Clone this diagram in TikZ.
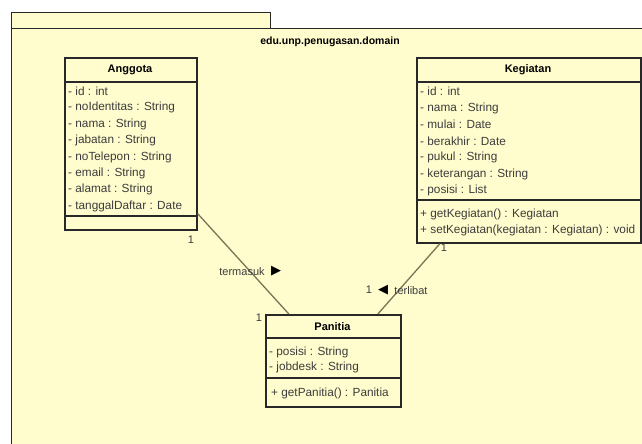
\documentclass[tikz,border=0pt]{standalone}
\usepackage{fontspec}
\setmainfont{Liberation Sans}
\newfontfamily\symfont{DejaVu Sans}
\definecolor{pkgfill}{RGB}{255,252,205}
\definecolor{boxline}{RGB}{40,40,40}
\definecolor{txt}{RGB}{60,60,60}
\definecolor{assoc}{RGB}{125,115,85}
\begin{document}
\begin{tikzpicture}[x=1pt,y=-1pt,
 attr/.style={anchor=west,inner sep=0pt,font=\fontsize{11.8}{13}\selectfont,text=txt},
 ctitle/.style={inner sep=0pt,font=\bfseries\fontsize{11}{13}\selectfont,text=black},
 classbox/.style={draw=boxline,line width=1.7pt,fill=pkgfill,inner sep=0pt,anchor=north west},
 sepline/.style={draw=boxline,line width=1.1pt},
 mult/.style={inner sep=0pt,font=\fontsize{11}{13}\selectfont,text=txt},
 tri/.style={inner sep=0pt,font=\symfont\fontsize{13}{13}\selectfont,text=black},
 assocline/.style={draw=assoc,line width=1.3pt}]
\clip (0,0) rectangle (642,444);
\fill[white] (0,0) rectangle (642,444);
% package
\node[draw=boxline,line width=1.3pt,fill=pkgfill,anchor=north west,minimum width=259pt,minimum height=16pt,inner sep=0pt] (tab) at (11,12) {};
\node[draw=boxline,line width=1.3pt,fill=pkgfill,anchor=north west,minimum width=680pt,minimum height=460pt,inner sep=0pt] (pkg) at (11,28) {};
\node[ctitle,font=\bfseries\fontsize{10.5}{13}\selectfont] (pkgname) at (330,42) {edu.unp.penugasan.domain};

% Anggota
\node[classbox,minimum width=132pt,minimum height=172pt] (anggota) at (64,57) {};
\node[ctitle] (anggotaT) at (130,69.5) {Anggota};
\draw[sepline] (64,82) -- (196,82);
\draw[sepline] (64,216) -- (196,216);
\node[attr] (a1) at (68,91.5) {- id : int};
\node[attr] (a2) at (68,107.9) {- noIdentitas : String};
\node[attr] (a3) at (68,124.3) {- nama : String};
\node[attr] (a4) at (68,140.7) {- jabatan : String};
\node[attr] (a5) at (68,157.1) {- noTelepon : String};
\node[attr] (a6) at (68,173.5) {- email : String};
\node[attr] (a7) at (68,189.9) {- alamat : String};
\node[attr] (a8) at (68,206.3) {- tanggalDaftar : Date};

% Kegiatan
\node[classbox,minimum width=224pt,minimum height=185pt] (kegiatan) at (416,57) {};
\node[ctitle] (kegiatanT) at (528,69.5) {Kegiatan};
\draw[sepline] (416,82) -- (640,82);
\draw[sepline] (416,200) -- (640,200);
\node[attr] (k1) at (420,91.5) {- id : int};
\node[attr] (k2) at (420,108) {- nama : String};
\node[attr] (k3) at (420,124.5) {- mulai : Date};
\node[attr] (k4) at (420,141) {- berakhir : Date};
\node[attr] (k5) at (420,157.5) {- pukul : String};
\node[attr] (k6) at (420,174) {- keterangan : String};
\node[attr] (k7) at (420,190) {- posisi : List};
\node[attr] (k8) at (420,214) {+ getKegiatan() : Kegiatan};
\node[attr] (k9) at (420,230) {+ setKegiatan(kegiatan : Kegiatan) : void};

% Panitia
\node[classbox,minimum width=135pt,minimum height=92pt] (panitia) at (265,314) {};
\node[ctitle] (panitiaT) at (332.5,326.5) {Panitia};
\draw[sepline] (265,338) -- (400,338);
\draw[sepline] (265,378) -- (400,378);
\node[attr] (p1) at (269,352) {- posisi : String};
\node[attr] (p2) at (269,367) {- jobdesk : String};
\node[attr] (p3) at (271,393) {+ getPanitia() : Panitia};

% associations
\coordinate (aEnd) at ([yshift=17pt]anggota.south east);
\coordinate (pEnd1) at ([xshift=-44.5pt]panitia.north);
\coordinate (kEnd) at ([xshift=-89pt]kegiatan.south);
\coordinate (pEnd2) at ([xshift=44.5pt]panitia.north);
\draw[assocline] (aEnd) -- (pEnd1);
\draw[assocline] (kEnd) -- (pEnd2);

\node[mult] (m1) at (191,240) {1};
\node[mult] (m2) at (259,318) {1};
\node[mult] (lab1) at (242,272) {termasuk};
\node[tri] (tri1) at (276,271) {▶};
\node[mult] (m3) at (444,248) {1};
\node[mult] (m4) at (369,290) {1};
\node[tri] (tri2) at (383,290) {◀};
\node[mult] (lab2) at (411,291) {terlibat};
\end{tikzpicture}
\end{document}
